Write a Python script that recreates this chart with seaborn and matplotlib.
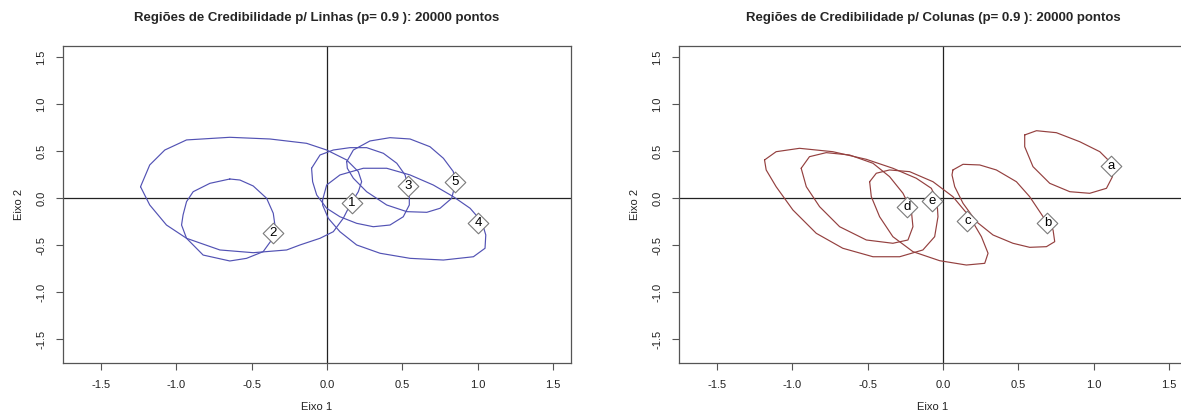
import numpy as np
import pandas as pd
import matplotlib
matplotlib.use("Agg")
import matplotlib.pyplot as plt
import seaborn as sns

sns.set_style("ticks")
plt.rcParams['font.family'] = ['Liberation Sans', 'DejaVu Sans']

# ---------------- data: rows (left panel) ----------------
row_labels = ['1', '2', '3', '4', '5']
row_x = [0.164, -0.356, 0.540, 1.004, 0.849]
row_y = [-0.053, -0.372, 0.131, -0.259, 0.173]

reg1_x = [-1.236, -1.175, -1.075, -0.931, -0.644, -0.378, -0.135, -0.002, 0.131, 0.208, 0.230, 0.208,
          0.153, 0.108, 0.042, -0.046, -0.179, -0.267, -0.489, -0.710, -0.931, -1.064, -1.175]
reg1_y = [0.123, 0.354, 0.513, 0.620, 0.648, 0.630, 0.584, 0.513, 0.407, 0.283, 0.176, 0.070,
          -0.071, -0.213, -0.355, -0.425, -0.496, -0.549, -0.578, -0.549, -0.425, -0.284, -0.071]

reg2_x = [-0.644, -0.577, -0.489, -0.400, -0.356, -0.345, -0.367, -0.423, -0.533, -0.644, -0.821,
          -0.931, -0.964, -0.954, -0.931, -0.887, -0.776]
reg2_y = [0.205, 0.194, 0.131, 0.000, -0.159, -0.284, -0.443, -0.567, -0.638, -0.666, -0.603,
          -0.425, -0.284, -0.177, -0.036, 0.070, 0.159]

reg3_x = [-0.102, -0.046, 0.042, 0.153, 0.263, 0.374, 0.463, 0.518, 0.546, 0.546, 0.506, 0.418,
          0.307, 0.197, 0.086, -0.002, -0.068, -0.095]
reg3_y = [0.319, 0.460, 0.513, 0.538, 0.538, 0.478, 0.372, 0.248, 0.070, -0.071, -0.196, -0.284,
          -0.302, -0.266, -0.196, -0.106, 0.035, 0.176]

reg4_x = [-0.029, -0.002, 0.086, 0.241, 0.396, 0.551, 0.705, 0.838, 0.949, 1.027, 1.053, 1.048,
          0.971, 0.772, 0.551, 0.352, 0.197, 0.086, 0.009, -0.029]
reg4_y = [-0.018, 0.141, 0.248, 0.319, 0.319, 0.248, 0.141, 0.017, -0.106, -0.249, -0.390, -0.531,
          -0.621, -0.656, -0.638, -0.584, -0.496, -0.355, -0.213, -0.071]

reg5_x = [0.131, 0.175, 0.285, 0.418, 0.551, 0.683, 0.772, 0.838, 0.849, 0.827, 0.750, 0.662,
          0.529, 0.396, 0.263, 0.175, 0.135]
reg5_y = [0.389, 0.513, 0.609, 0.644, 0.630, 0.548, 0.425, 0.283, 0.141, 0.000, -0.106, -0.149,
          -0.142, -0.071, 0.070, 0.213, 0.319]

# ---------------- data: columns (right panel) ----------------
col_labels = ['a', 'b', 'c', 'd', 'e']
col_x = [1.117, 0.693, 0.162, -0.239, -0.073]
col_y = [0.343, -0.259, -0.238, -0.096, -0.029]

rega_x = [0.542, 0.620, 0.752, 0.907, 1.040, 1.117, 1.124, 1.084, 0.973, 0.841, 0.708, 0.597, 0.542]
rega_y = [0.673, 0.718, 0.697, 0.601, 0.495, 0.372, 0.230, 0.106, 0.053, 0.070, 0.159, 0.336, 0.548]

regb_x = [0.066, 0.133, 0.244, 0.354, 0.487, 0.575, 0.664, 0.730, 0.741, 0.686, 0.575, 0.464,
          0.332, 0.222, 0.133, 0.078, 0.060]
regb_y = [0.301, 0.361, 0.354, 0.301, 0.176, 0.017, -0.196, -0.337, -0.461, -0.514, -0.521, -0.478,
          -0.390, -0.249, -0.053, 0.123, 0.248]

regc_x = [-0.486, -0.442, -0.354, -0.221, -0.066, 0.066, 0.177, 0.255, 0.299, 0.277, 0.155, -0.022,
          -0.199, -0.332, -0.420, -0.475]
regc_y = [0.176, 0.266, 0.301, 0.283, 0.176, 0.017, -0.196, -0.408, -0.584, -0.691, -0.709, -0.663,
          -0.567, -0.408, -0.196, 0.017]

regd_x = [-0.940, -0.885, -0.774, -0.619, -0.464, -0.354, -0.265, -0.210, -0.199, -0.232, -0.332,
          -0.508, -0.685, -0.818, -0.906]
regd_y = [0.319, 0.442, 0.485, 0.460, 0.372, 0.230, 0.053, -0.124, -0.302, -0.443, -0.478,
          -0.443, -0.302, -0.089, 0.123]

rege_x = [-1.183, -1.106, -0.951, -0.730, -0.508, -0.332, -0.177, -0.077, -0.040, -0.033, -0.055,
          -0.133, -0.287, -0.464, -0.664, -0.840, -0.995, -1.106, -1.172]
rege_y = [0.407, 0.495, 0.531, 0.495, 0.414, 0.319, 0.213, 0.106, -0.018, -0.196, -0.408,
          -0.549, -0.621, -0.621, -0.531, -0.372, -0.124, 0.123, 0.301]

axis_ticks = [-1.5, -1.0, -0.5, 0.0, 0.5, 1.0, 1.5]
axis_lim = (-1.75, 1.618)

titles = ["Regiões de Credibilidade p/ Linhas (p= 0.9 ): 20000 pontos",
          "Regiões de Credibilidade p/ Colunas (p= 0.9 ): 20000 pontos"]


def regions_frame(labels, xs, ys):
    frames = []
    for lab, x, y in zip(labels, xs, ys):
        x = list(x) + [x[0]]
        y = list(y) + [y[0]]
        frames.append(pd.DataFrame({'x': x, 'y': y, 'region': lab,
                                    'order': np.arange(len(x))}))
    return pd.concat(frames, ignore_index=True)


left_regions = regions_frame(row_labels, [reg1_x, reg2_x, reg3_x, reg4_x, reg5_x],
                             [reg1_y, reg2_y, reg3_y, reg4_y, reg5_y])
right_regions = regions_frame(col_labels, [rega_x, regb_x, regc_x, regd_x, rege_x],
                              [rega_y, regb_y, regc_y, regd_y, rege_y])
left_points = pd.DataFrame({'x': row_x, 'y': row_y, 'label': row_labels})
right_points = pd.DataFrame({'x': col_x, 'y': col_y, 'label': col_labels})

W, H = 1181, 416
fig = plt.figure(figsize=(W / 100, H / 100), dpi=100)
fig.patch.set_facecolor('white')

bottom = (H - 363) / H
height = (363 - 46) / H
ax_l = fig.add_axes([63 / W, bottom, (571 - 63) / W, height])
ax_r = fig.add_axes([679 / W, bottom, (1187 - 679) / W, height])

panels = [(ax_l, left_regions, left_points, '#5252B4', titles[0]),
          (ax_r, right_regions, right_points, '#94403F', titles[1])]

for ax, reg, pts, col, title in panels:
    ax.axhline(0, color='#222222', lw=0.9, zorder=1)
    ax.axvline(0, color='#222222', lw=0.9, zorder=1)
    for lab, g in reg.groupby('region', sort=False):
        sns.lineplot(data=g, x='x', y='y', sort=False, estimator=None, color=col,
                     lw=0.85, ax=ax, zorder=2)
    sns.scatterplot(data=pts, x='x', y='y', marker='D', s=110, facecolor='white',
                    edgecolor='#7a7a7a', linewidth=0.8, ax=ax, zorder=3)
    for _, r in pts.iterrows():
        ax.text(r['x'], r['y'], r['label'], ha='center', va='center', fontsize=9.5,
                color='black', zorder=4)
    ax.set_xlim(*axis_lim)
    ax.set_ylim(*axis_lim)
    ax.set_xticks(axis_ticks)
    ax.set_yticks(axis_ticks)
    ax.set_xticklabels([f"{t:.1f}" for t in axis_ticks])
    ax.set_yticklabels([f"{t:.1f}" for t in axis_ticks], rotation=90, va='center')
    ax.tick_params(axis='both', direction='out', length=5, width=0.8, color='#555555',
                   labelsize=8, labelcolor='#222222', pad=7)
    for s in ax.spines.values():
        s.set_color('#555555')
        s.set_linewidth(0.9)
        s.set_visible(True)
    ax.set_xlabel('Eixo 1', fontsize=8, color='#222222', labelpad=9)
    ax.set_ylabel('Eixo 2', fontsize=8, color='#222222', labelpad=9)
    ax.set_title(title, fontsize=9.5, fontweight='bold', pad=18)
    ax.grid(False)

fig.savefig('out.png', dpi=100, facecolor='white')
